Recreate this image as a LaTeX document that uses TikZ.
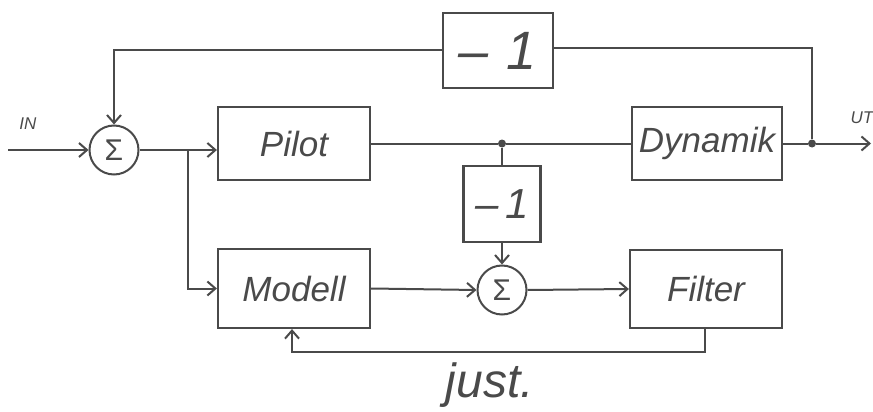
\documentclass[tikz,border=0pt]{standalone}
\usepackage{fontspec}
\setmainfont{Liberation Sans}
\usetikzlibrary{arrows.meta}
\definecolor{ink}{HTML}{4A4A4A}
\begin{document}
\begin{tikzpicture}[x=1pt,y=-1pt,
  every node/.style={text=ink},
  blk/.style={draw=ink, line width=2.2pt, inner sep=0pt, font=\itshape\fontsize{35}{35}\selectfont},
  neg/.style={draw=ink, line width=2.2pt, inner sep=0pt, font=\itshape\fontsize{54}{54}\selectfont},
  sumc/.style={draw=ink, line width=2pt, circle, inner sep=0pt, minimum size=49pt, font=\fontsize{30}{30}\selectfont},
  wire/.style={draw=ink, line width=2pt},
  arr/.style={wire, -{Straight Barb[length=8pt,width=14pt,line width=2pt]}},
  jdot/.style={circle, fill=ink, inner sep=0pt, minimum size=8pt},
  lbl/.style={font=\itshape\fontsize{17}{17}\selectfont}]
\useasboundingbox (0,0) rectangle (873,412);
\node[neg, minimum width=110pt, minimum height=75pt] (top) at (498,50.5) {–\,\,1};
\node[blk, minimum width=152pt, minimum height=73pt] (pilot) at (294,143.5) {Pilot};
\node[blk, minimum width=150pt, minimum height=73pt] (dyn) at (707,143.5) {Dynamik};
\node[neg, font=\itshape\fontsize{42}{42}\selectfont, minimum width=77pt, minimum height=76pt] (mid) at (502,204) {–\,1};
\node[blk, minimum width=152pt, minimum height=79pt] (modell) at (294,288.5) {Modell};
\node[blk, minimum width=152pt, minimum height=78pt] (filter) at (706,289) {Filter};
\node[sumc] (s1) at (114,150) {Σ};
\node[sumc] (s2) at (502,290) {Σ};
\node[jdot] (d1) at (502,143.5) {};
\node[jdot] (d2) at (812,143.5) {};
\coordinate (in) at (8,150);
\coordinate (out) at (871,143.5);
\coordinate (br) at (188,150);
\coordinate (tl) at (114,50.5);
\coordinate (tr) at (812,48);
\coordinate (fb1) at (705,352);
\coordinate (fb2) at (292,352);
\node[lbl] (inl) at (28,124) {IN};
\node[lbl] (utl) at (862,118) {UT};
\node[font=\itshape\fontsize{48}{48}\selectfont] (just) at (490,385) {just.};
% connectors
\draw[arr] (in) -- (s1.west);
\draw[arr] (s1.east) -- (s1.east -| pilot.west);
\draw[arr] (br) |- (modell.west);
\draw[wire] (pilot.east) -- (d1) -- (dyn.west);
\draw[arr] (dyn.east) -- (d2) -- (out);
\draw[wire] (d2) -- (tr) -- (top.east |- tr);
\draw[arr] (top.west) -- (tl) -- (s1.north);
\draw[wire] (d1) -- (mid.north);
\draw[arr] (mid.south) -- (s2.north);
\draw[arr] (modell.east) -- (s2.west);
\draw[arr] (s2.east) -- (filter.west);
\draw[arr] (filter.south -| fb1) -- (fb1) -- (fb2) -- (fb2 |- modell.south);
\end{tikzpicture}
\end{document}
